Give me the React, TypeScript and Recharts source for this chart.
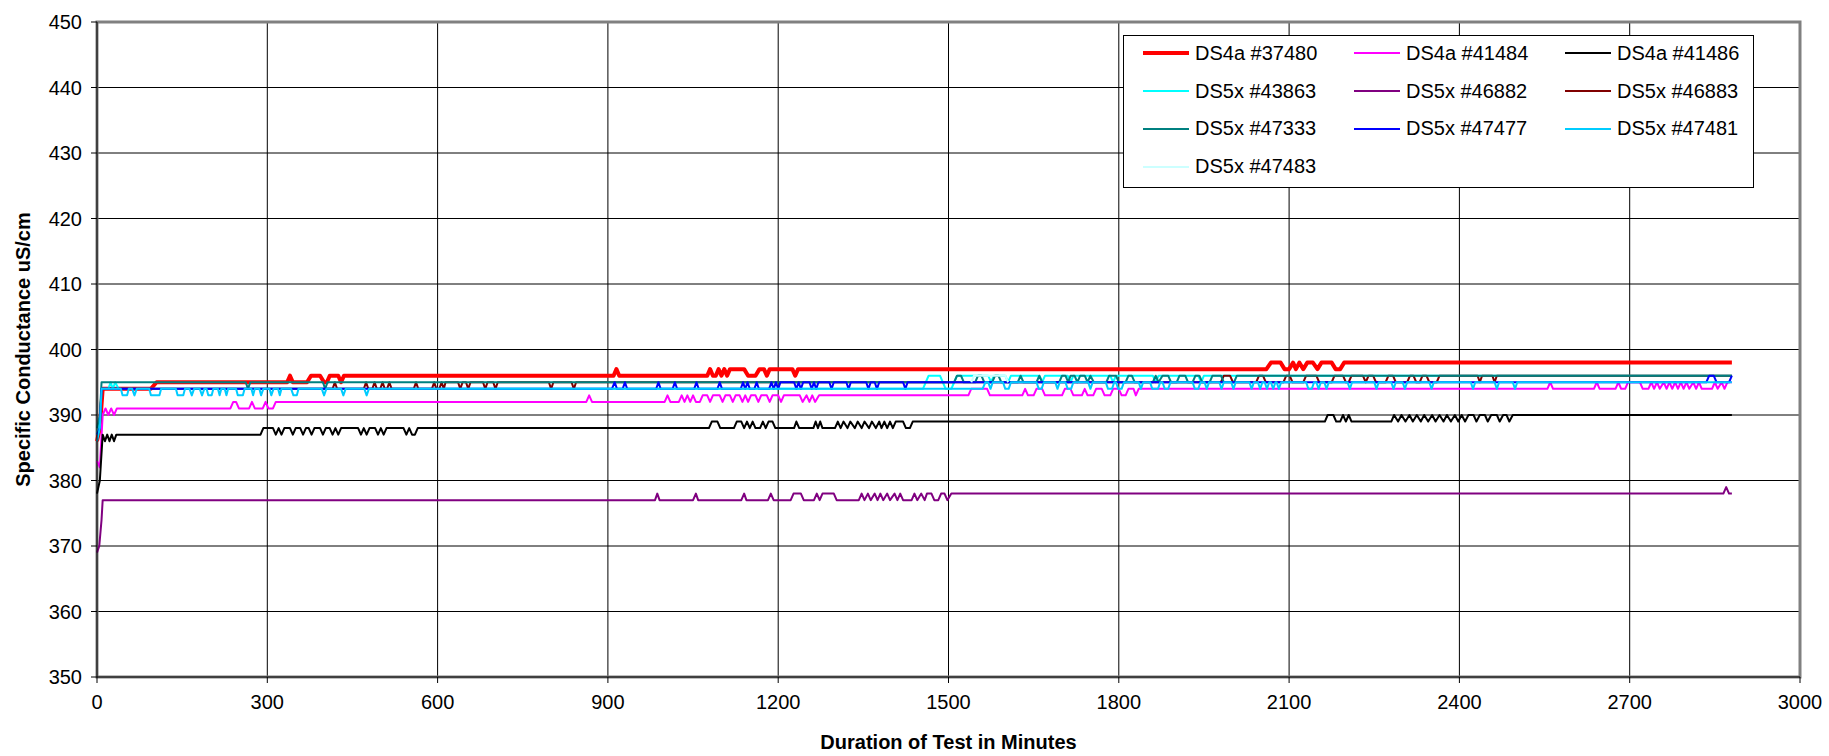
import React from 'react';
import { LineChart, Line, XAxis, YAxis, CartesianGrid, Legend, ReferenceArea } from 'recharts';

const xTicks = [0, 300, 600, 900, 1200, 1500, 1800, 2100, 2400, 2700, 3000];
const yTicks = [350, 360, 370, 380, 390, 400, 410, 420, 430, 440, 450];

// [minute, uS/cm] break points (flat runs between them)
const ds4a37480 = [
  [0, 386], [5, 388], [10, 394], [95, 394], [105, 395], [335, 395], [340, 396], [345, 395], [370, 395], [377, 396],
  [393, 396], [400, 395], [405, 395], [410, 396], [425, 396], [430, 395], [435, 396], [910, 396], [915, 397], [920, 396],
  [1075, 396], [1080, 397], [1085, 396], [1090, 396], [1095, 397], [1100, 396], [1105, 397], [1110, 396], [1115, 397],
  [1140, 397], [1147, 396], [1160, 396], [1167, 397], [1175, 397], [1180, 396], [1185, 397], [1225, 397], [1230, 396],
  [1235, 397], [2060, 397], [2068, 398], [2085, 398], [2092, 397], [2100, 397], [2107, 398], [2112, 397], [2118, 398],
  [2125, 397], [2132, 398], [2142, 398], [2150, 397], [2157, 398], [2175, 398], [2182, 397], [2190, 397], [2197, 398],
  [2880, 398],
];

const ds4a41484 = [
  [0, 383], [5, 382], [10, 390], [15, 391], [20, 390], [25, 391], [30, 390], [35, 391], [235, 391], [240, 392],
  [245, 392], [250, 391], [268, 391], [273, 392], [278, 391], [292, 391], [297, 392], [302, 391], [310, 391], [315, 392],
  [862, 392], [867, 393], [872, 392], [1000, 392], [1005, 393], [1010, 392], [1025, 392], [1030, 393], [1035, 392],
  [1040, 393], [1045, 392], [1050, 393], [1055, 392], [1062, 392], [1067, 393], [1075, 393], [1080, 392], [1085, 393],
  [1097, 393], [1102, 392], [1107, 393], [1115, 393], [1120, 392], [1125, 393], [1132, 393], [1137, 392], [1142, 393],
  [1147, 392], [1152, 393], [1160, 393], [1165, 392], [1170, 393], [1180, 393], [1185, 392], [1190, 393], [1200, 393],
  [1205, 392], [1210, 393], [1238, 393], [1243, 392], [1250, 393], [1255, 392], [1260, 393], [1265, 392], [1272, 393],
  [1535, 393], [1540, 394], [1568, 394], [1573, 393], [1630, 393], [1635, 394], [1640, 393], [1650, 393], [1655, 394],
  [1665, 394], [1670, 393], [1700, 393], [1705, 394], [1715, 394], [1720, 393], [1735, 393], [1740, 394], [1745, 393],
  [1755, 393], [1760, 394], [1770, 394], [1775, 393], [1785, 393], [1790, 394], [1800, 394], [1805, 393], [1812, 393],
  [1817, 394], [1826, 394], [1830, 393], [1835, 394], [2555, 394], [2560, 395], [2565, 394], [2637, 394], [2642, 395],
  [2647, 394], [2675, 394], [2680, 395], [2685, 394], [2692, 394], [2697, 395], [2718, 395], [2723, 394], [2733, 394],
  [2738, 395], [2743, 394], [2748, 395], [2753, 394], [2760, 395], [2765, 394], [2770, 395], [2775, 394], [2780, 395],
  [2785, 394], [2790, 395], [2795, 394], [2800, 395], [2805, 394], [2812, 395], [2817, 394], [2822, 395], [2827, 394],
  [2845, 394], [2850, 395], [2855, 394], [2862, 395], [2867, 394], [2872, 395], [2880, 395],
];

const ds4a41486 = [
  [0, 378], [5, 380], [10, 387], [14, 386], [18, 387], [22, 386], [26, 387], [30, 386], [34, 387], [288, 387],
  [293, 388], [310, 388], [315, 387], [320, 388], [325, 387], [330, 388], [340, 388], [345, 387], [350, 388], [358, 388],
  [363, 387], [368, 388], [373, 388], [378, 387], [383, 388], [393, 388], [398, 387], [403, 388], [410, 388], [415, 387],
  [420, 388], [425, 387], [430, 388], [460, 388], [465, 387], [470, 388], [475, 387], [480, 388], [490, 388], [495, 387],
  [500, 388], [505, 387], [510, 388], [540, 388], [545, 387], [550, 388], [555, 387], [560, 387], [565, 388],
  [1078, 388], [1083, 389], [1093, 389], [1098, 388], [1122, 388], [1127, 389], [1135, 389], [1140, 388], [1145, 389],
  [1150, 388], [1155, 389], [1160, 388], [1168, 388], [1173, 389], [1178, 388], [1183, 389], [1190, 389], [1195, 388],
  [1228, 388], [1232, 389], [1237, 388], [1262, 388], [1266, 389], [1270, 388], [1274, 389], [1278, 388], [1300, 388],
  [1305, 389], [1310, 388], [1315, 389], [1322, 388], [1327, 389], [1335, 388], [1340, 389], [1347, 388], [1352, 389],
  [1360, 388], [1365, 389], [1372, 388], [1378, 389], [1382, 388], [1387, 389], [1392, 388], [1397, 389], [1402, 388],
  [1407, 389], [1420, 389], [1425, 388], [1432, 388], [1437, 389], [2163, 389], [2168, 390], [2178, 390], [2183, 389],
  [2190, 389], [2195, 390], [2200, 389], [2205, 390], [2210, 389], [2280, 389], [2285, 390], [2292, 389], [2298, 390],
  [2305, 389], [2312, 390], [2318, 389], [2325, 390], [2332, 389], [2338, 390], [2345, 389], [2352, 390], [2358, 389],
  [2365, 390], [2372, 389], [2378, 390], [2385, 389], [2392, 390], [2398, 389], [2404, 390], [2410, 389], [2416, 390],
  [2425, 390], [2430, 389], [2436, 390], [2445, 390], [2450, 389], [2456, 390], [2466, 390], [2471, 389], [2477, 390],
  [2483, 390], [2488, 389], [2494, 390], [2880, 390],
];

const ds5x43863 = [
  [0, 387], [5, 389], [8, 394], [20, 394], [24, 395], [28, 394], [32, 395], [38, 394], [1455, 394], [1460, 395],
  [1465, 396], [1485, 396], [1490, 395], [1495, 394], [1505, 394], [1510, 395], [1515, 396], [1570, 396], [1575, 395],
  [1580, 396], [1600, 396], [1605, 395], [1610, 396], [1660, 396], [1665, 395], [1670, 396], [1710, 396], [1715, 395],
  [1720, 396], [1785, 396], [1790, 395], [1795, 396], [1860, 396], [1865, 395], [1870, 396], [1940, 396], [1945, 395],
  [1950, 396], [2880, 396],
];

const ds5x46882 = [
  [0, 369], [4, 370], [8, 374], [10, 377], [983, 377], [987, 378], [991, 377], [1050, 377], [1055, 378], [1059, 377],
  [1135, 377], [1140, 378], [1144, 377], [1182, 377], [1187, 378], [1192, 377], [1196, 377], [1222, 377], [1227, 378],
  [1240, 378], [1245, 377], [1263, 377], [1268, 378], [1273, 377], [1278, 378], [1298, 378], [1303, 377], [1342, 377],
  [1347, 378], [1352, 377], [1358, 378], [1363, 377], [1370, 378], [1375, 377], [1380, 378], [1385, 377], [1392, 378],
  [1397, 377], [1405, 378], [1410, 377], [1415, 378], [1420, 377], [1435, 377], [1440, 378], [1445, 377], [1452, 378],
  [1458, 377], [1462, 378], [1470, 378], [1475, 377], [1482, 377], [1487, 378], [1493, 378], [1498, 377], [1505, 378],
  [2865, 378], [2870, 379], [2875, 378], [2880, 378],
];

const ds5x46883 = [
  [0, 386], [5, 388], [8, 394], [415, 394], [419, 395], [423, 394], [470, 394], [474, 395], [478, 394], [485, 394],
  [489, 395], [493, 394], [499, 394], [503, 395], [507, 394], [511, 394], [515, 395], [519, 394], [558, 394], [562, 395],
  [566, 394], [590, 394], [594, 395], [598, 394], [603, 394], [607, 395], [611, 394], [614, 395], [636, 395], [640, 394],
  [644, 395], [650, 395], [654, 394], [658, 395], [680, 395], [684, 394], [688, 395], [698, 395], [702, 394], [706, 395],
  [796, 395], [800, 394], [804, 395], [836, 395], [840, 394], [844, 395], [1980, 395], [1985, 396], [1996, 396],
  [2001, 395], [2042, 395], [2047, 396], [2054, 396], [2059, 395], [2090, 395], [2095, 396], [2101, 396], [2106, 395],
  [2125, 395], [2130, 396], [2148, 396], [2153, 395], [2175, 395], [2180, 396], [2195, 396], [2200, 395], [2205, 395],
  [2210, 396], [2230, 396], [2235, 395], [2240, 396], [2248, 396], [2253, 395], [2270, 395], [2275, 396], [2283, 396],
  [2288, 395], [2308, 395], [2313, 396], [2319, 396], [2324, 395], [2330, 395], [2335, 396], [2342, 396], [2347, 395],
  [2360, 395], [2365, 396], [2432, 396], [2436, 395], [2440, 396], [2458, 396], [2462, 395], [2466, 396], [2880, 396],
];

const ds5x47333 = [
  [0, 388], [5, 390], [8, 395], [262, 395], [266, 394], [270, 395], [398, 395], [402, 394], [406, 395], [1510, 395],
  [1515, 396], [1522, 396], [1527, 395], [1547, 395], [1552, 396], [1558, 396], [1563, 395], [1577, 395], [1582, 396],
  [1588, 396], [1593, 395], [1622, 395], [1627, 396], [1632, 395], [1655, 395], [1660, 396], [1665, 395], [1695, 395],
  [1700, 396], [1706, 396], [1711, 395], [1715, 396], [1722, 396], [1727, 395], [1732, 396], [1740, 396], [1745, 395],
  [1750, 396], [1756, 395], [1778, 395], [1783, 396], [1795, 396], [1800, 395], [1812, 395], [1817, 396], [1823, 396],
  [1828, 395], [1860, 395], [1865, 396], [1870, 395], [1877, 396], [1887, 396], [1892, 395], [1902, 395], [1907, 396],
  [1917, 396], [1922, 395], [1930, 395], [1935, 396], [1942, 396], [1947, 395], [1960, 395], [1965, 396], [1980, 396],
  [1985, 395], [2003, 395], [2008, 396], [2880, 396],
];

const ds5x47477 = [
  [0, 387], [5, 388], [8, 394], [907, 394], [912, 395], [916, 394], [926, 394], [930, 395], [934, 394], [985, 394],
  [989, 395], [993, 394], [1014, 394], [1018, 395], [1022, 394], [1052, 394], [1056, 395], [1060, 394], [1093, 394],
  [1097, 395], [1101, 394], [1134, 394], [1138, 395], [1142, 394], [1146, 395], [1150, 394], [1158, 394], [1162, 395],
  [1166, 394], [1184, 394], [1188, 395], [1192, 394], [1196, 395], [1200, 394], [1204, 395], [1228, 395], [1232, 394],
  [1236, 395], [1240, 394], [1244, 395], [1255, 395], [1259, 394], [1263, 395], [1267, 394], [1271, 395], [1290, 395],
  [1294, 394], [1298, 395], [1320, 395], [1324, 394], [1328, 395], [1355, 395], [1359, 394], [1363, 395], [1370, 395],
  [1374, 394], [1378, 395], [1420, 395], [1424, 394], [1428, 395], [2835, 395], [2840, 396], [2848, 396], [2853, 395],
  [2875, 395], [2880, 396],
];

const ds5x47481 = [
  [0, 386], [5, 388], [8, 394], [42, 394], [45, 393], [53, 393], [56, 394], [62, 394], [66, 393], [70, 394], [92, 394],
  [95, 393], [110, 393], [113, 394], [139, 394], [142, 393], [152, 393], [155, 394], [163, 394], [167, 393], [171, 394],
  [181, 394], [185, 393], [189, 394], [193, 394], [196, 393], [202, 393], [205, 394], [213, 394], [216, 393], [219, 394],
  [225, 394], [228, 393], [231, 394], [245, 394], [248, 393], [257, 393], [260, 394], [272, 394], [275, 393], [278, 394],
  [286, 394], [289, 393], [293, 394], [304, 394], [307, 393], [311, 394], [319, 394], [322, 393], [325, 394], [342, 394],
  [346, 393], [352, 393], [355, 394], [396, 394], [400, 393], [404, 394], [430, 394], [434, 393], [438, 394], [471, 394],
  [475, 393], [479, 394], [1560, 394], [1565, 395], [1570, 395], [1574, 394], [1578, 395], [1596, 395], [1600, 394],
  [1606, 394], [1610, 395], [1655, 395], [1659, 394], [1664, 394], [1668, 395], [1688, 395], [1692, 394], [1696, 395],
  [1706, 395], [1710, 394], [1716, 394], [1720, 395], [1746, 395], [1750, 394], [1754, 395], [1777, 395], [1781, 394],
  [1788, 394], [1792, 395], [1795, 395], [1799, 394], [1805, 394], [1809, 395], [1835, 395], [1839, 394], [1843, 395],
  [1855, 395], [1859, 394], [1869, 394], [1873, 395], [1877, 395], [1881, 394], [1887, 394], [1891, 395], [1930, 395],
  [1934, 394], [1940, 394], [1944, 395], [1951, 395], [1955, 394], [1959, 395], [1977, 395], [1981, 394], [1985, 395],
  [1998, 395], [2002, 394], [2006, 395], [2030, 395], [2034, 394], [2038, 395], [2045, 395], [2049, 394], [2053, 395],
  [2057, 395], [2061, 394], [2065, 395], [2068, 395], [2072, 394], [2076, 395], [2078, 395], [2082, 394], [2086, 395],
  [2130, 395], [2134, 394], [2140, 394], [2144, 395], [2148, 395], [2152, 394], [2156, 395], [2162, 395], [2166, 394],
  [2170, 395], [2203, 395], [2207, 394], [2211, 395], [2250, 395], [2254, 394], [2258, 395], [2280, 395], [2284, 394],
  [2288, 395], [2300, 395], [2304, 394], [2308, 395], [2347, 395], [2351, 394], [2355, 395], [2420, 395], [2424, 394],
  [2428, 395], [2462, 395], [2466, 394], [2470, 395], [2494, 395], [2498, 394], [2502, 395], [2880, 395],
];

const ds5x47483 = [
  [1540, 395], [1545, 396], [1600, 396], [1605, 395],
];

const series = [
  { name: 'DS4a #37480', color: '#FF0000', width: 4, points: ds4a37480 },
  { name: 'DS4a #41484', color: '#FF00FF', width: 2, points: ds4a41484 },
  { name: 'DS4a #41486', color: '#000000', width: 2, points: ds4a41486 },
  { name: 'DS5x #43863', color: '#00FFFF', width: 2, points: ds5x43863 },
  { name: 'DS5x #46882', color: '#800080', width: 2, points: ds5x46882 },
  { name: 'DS5x #46883', color: '#800000', width: 2, points: ds5x46883 },
  { name: 'DS5x #47333', color: '#008080', width: 2, points: ds5x47333 },
  { name: 'DS5x #47477', color: '#0000FF', width: 2, points: ds5x47477 },
  { name: 'DS5x #47481', color: '#00CCFF', width: 2, points: ds5x47481 },
  { name: 'DS5x #47483', color: '#CCFFFF', width: 2, points: ds5x47483 },
];

const font = '"Liberation Sans", Arial, sans-serif';

const LegendBox = (props: any) => {
  const items = props.payload || [];
  return (
    <div style={{ position: 'relative', width: 631, height: 153, boxSizing: 'border-box', border: '1px solid #000', background: '#fff', fontFamily: font, fontSize: 20, color: '#000' }}>
      {items.map((it: any, i: number) => {
        const s = series.find((x) => x.name === it.value);
        return (
          <div key={it.value} style={{ position: 'absolute', left: 19 + (i % 3) * 211, top: Math.floor(i / 3) * 37.8 - 1.5, height: 37.8, display: 'flex', alignItems: 'center', whiteSpace: 'nowrap' }}>
            <svg width={46} height={8}>
              <line x1={0} y1={4} x2={46} y2={4} stroke={it.color} strokeWidth={s ? s.width : 2} />
            </svg>
            <span style={{ marginLeft: 6 }}>{it.value}</span>
          </div>
        );
      })}
    </div>
  );
};

const YTitle = (props: any) => {
  const vb = props.viewBox || { y: 22, height: 655 };
  const x = 29.5;
  const y = vb.y + vb.height / 2;
  return (
    <text x={x} y={y} transform={`rotate(-90 ${x} ${y})`} textAnchor="middle" fontFamily={font} fontSize={20} fontWeight={700} fill="#000">
      Specific Conductance uS/cm
    </text>
  );
};

export default function App() {
  return (
    <div style={{ position: 'absolute', left: 0, top: 0, width: 1829, height: 756, background: '#fff' }}>
      <LineChart width={1829} height={756} margin={{ top: 22, right: 29, bottom: 0, left: 0 }}>
        <CartesianGrid stroke="#000" strokeWidth={1} horizontalValues={yTicks} verticalValues={xTicks} />
        <ReferenceArea x1={0} x2={3000} y1={350} y2={450} fill="none" stroke="#808080" strokeWidth={3} />
        <XAxis
          dataKey="t"
          type="number"
          domain={[0, 3000]}
          ticks={xTicks}
          height={79}
          tickSize={6}
          tickMargin={12}
          stroke="#000"
          tick={{ fontSize: 20, fill: '#000', fontFamily: font }}
          label={{ value: 'Duration of Test in Minutes', position: 'insideBottom', offset: 7, fontSize: 20, fontWeight: 700, fill: '#000', fontFamily: font }}
        />
        <YAxis
          type="number"
          domain={[350, 450]}
          ticks={yTicks}
          width={97}
          tickSize={6}
          tickMargin={9}
          stroke="#000"
          tick={{ fontSize: 20, fill: '#000', fontFamily: font }}
          label={{ content: YTitle }}
        />
        <Legend
          layout="horizontal"
          verticalAlign="middle"
          align="center"
          content={LegendBox}
          wrapperStyle={{ left: 1123, top: 35, width: 631, height: 153 }}
        />
        {series.map((s) => (
          <Line
            key={s.name}
            name={s.name}
            data={s.points.map(([t, v]) => ({ t, v }))}
            dataKey="v"
            type="linear"
            stroke={s.color}
            strokeWidth={s.width}
            strokeLinejoin="round"
            dot={false}
            activeDot={false}
            isAnimationActive={false}
          />
        ))}
      </LineChart>
    </div>
  );
}
